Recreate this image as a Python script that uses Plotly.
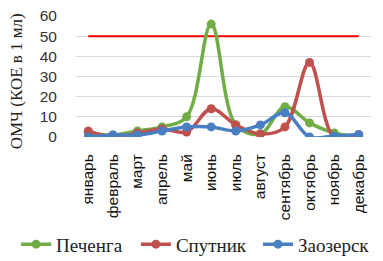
import plotly.graph_objects as go

months = ["январь", "февраль", "март", "апрель", "май", "июнь", "июль",
          "август", "сентябрь", "октябрь", "ноябрь", "декабрь"]
pechenga = [2, 1, 3, 5, 10, 56, 6, 1.5, 15, 7, 2, 0]
sputnik = [3, 0, 2, 4, 2.5, 14, 6, 1.5, 5, 37, 0, 1]
zaozersk = [0, 1, 1, 3, 5, 5, 3, 6, 12, 0, 0.5, 1.3]
limit_value = [50] * len(months)
y_title = "ОМЧ (КОЕ в 1 мл)"

series = [("Печенга", pechenga, "#70AD47", "legend"),
          ("Спутник", sputnik, "#C0504D", "legend2"),
          ("Заозерск", zaozersk, "#4A7EC2", "legend3")]

fig = go.Figure()
fig.add_trace(go.Scatter(x=months, y=limit_value, mode="lines",
                         line=dict(color="#FF0000", width=2), showlegend=False))
for name, vals, col, lg in series:
    fig.add_trace(go.Scatter(x=months, y=vals, name=name, mode="lines+markers",
                             legend=lg,
                             line=dict(color=col, width=3.5, shape="spline", smoothing=1),
                             marker=dict(color=col, size=9)))

fig.add_annotation(text=y_title, xref="paper", yref="paper", x=0, y=0.46,
                   xanchor="center", yanchor="middle", xshift=-60, textangle=-90,
                   showarrow=False,
                   font=dict(family="Liberation Serif", size=17, color="#222"))

legfont = dict(family="Liberation Serif", size=19, color="#222")
legy = -0.73
fig.update_layout(
    width=375, height=253,
    margin=dict(l=68, r=12, t=8, b=124, autoexpand=False),
    paper_bgcolor="white", plot_bgcolor="white",
    showlegend=True,
    legend=dict(orientation="h", x=-0.203, xanchor="left", y=legy, yanchor="top",
                font=legfont, bgcolor="rgba(0,0,0,0)"),
    legend2=dict(orientation="h", x=0.203, xanchor="left", y=legy, yanchor="top",
                 font=legfont, bgcolor="rgba(0,0,0,0)"),
    legend3=dict(orientation="h", x=0.617, xanchor="left", y=legy, yanchor="top",
                 font=legfont, bgcolor="rgba(0,0,0,0)"),
    xaxis=dict(tickangle=-90, showgrid=False, showline=False,
               ticks="outside", ticklen=10, tickcolor="rgba(0,0,0,0)",
               automargin=False, ticklabeloverflow="allow",
               tickfont=dict(family="Liberation Sans", size=15.5, color="#111"),
               range=[-0.5, 11.5]),
    yaxis=dict(range=[0, 60], dtick=10, showgrid=True, gridcolor="#D9D9D9",
               zeroline=False, showline=False,
               ticks="outside", ticklen=15, tickcolor="rgba(0,0,0,0)",
               automargin=False, ticklabeloverflow="allow",
               tickfont=dict(family="Liberation Sans", size=15.5, color="#333")),
)
fig.write_html("out.html")
